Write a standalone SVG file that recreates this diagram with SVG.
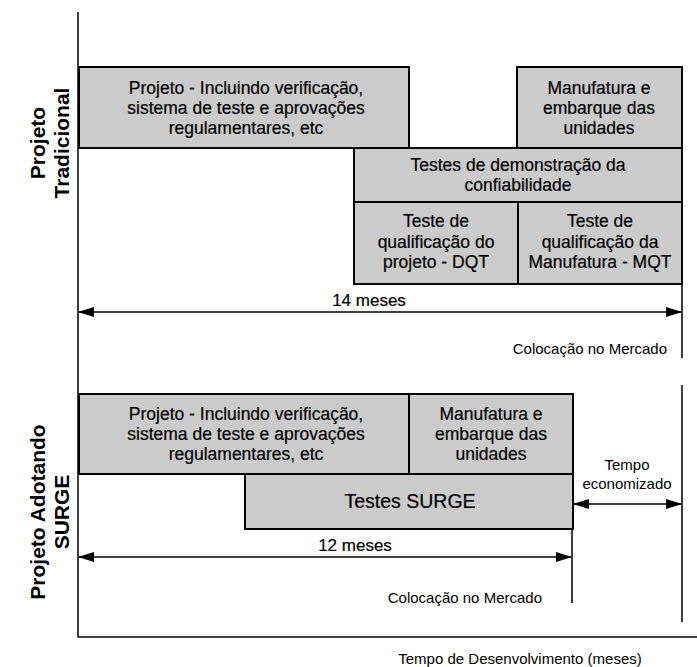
<svg xmlns="http://www.w3.org/2000/svg" width="697" height="667" viewBox="0 0 697 667">
  <style>
    .box { fill: #cbcbcb; stroke: #000; stroke-width: 2; }
    .t { font-family: "Liberation Sans", Arial, sans-serif; font-size: 17.5px; fill: #000; text-anchor: middle; stroke: #000; stroke-width: 0.2; }
    .s { font-family: "Liberation Sans", Arial, sans-serif; font-size: 15px; fill: #000; }
    .lbl { font-family: "Liberation Sans", Arial, sans-serif; font-size: 21px; font-weight: bold; fill: #000; text-anchor: middle; }
    .ax { stroke: #000; stroke-width: 1.5; fill: none; }
    .arr { stroke: #000; stroke-width: 1.5; fill: none; marker-start: url(#head); marker-end: url(#head); }
  </style>
  <defs>
    <marker id="head" viewBox="0 0 16 10" markerWidth="16" markerHeight="10" refX="15" refY="5" orient="auto-start-reverse" markerUnits="userSpaceOnUse">
      <path d="M0,0 L16,5 L0,10 z" fill="#000"/>
    </marker>
  </defs>

  <rect width="697" height="667" fill="#fff"/>

  <!-- row labels -->
  <g id="label-tradicional">
    <text class="lbl" transform="translate(45,143) rotate(-90)">Projeto</text>
    <text class="lbl" transform="translate(69,143) rotate(-90)">Tradicional</text>
  </g>
  <g id="label-surge">
    <text class="lbl" transform="translate(45,512) rotate(-90)">Projeto Adotando</text>
    <text class="lbl" transform="translate(69,512) rotate(-90)">SURGE</text>
  </g>

  <!-- traditional project -->
  <g id="trad-projeto">
    <rect class="box" x="79" y="67" width="330" height="81"/>
    <text class="t" x="246" y="94">Projeto - Incluindo verificação,</text>
    <text class="t" x="246" y="114">sistema de teste e aprovações</text>
    <text class="t" x="246" y="134">regulamentares, etc</text>
  </g>
  <g id="trad-manufatura">
    <rect class="box" x="517" y="67" width="165" height="81"/>
    <text class="t" x="599" y="94">Manufatura  e</text>
    <text class="t" x="599" y="114">embarque das</text>
    <text class="t" x="599" y="134">unidades</text>
  </g>
  <g id="trad-confiabilidade">
    <rect class="box" x="354" y="148" width="328" height="54"/>
    <text class="t" x="518" y="171">Testes de demonstração da</text>
    <text class="t" x="518" y="191">confiabilidade</text>
  </g>
  <g id="trad-dqt">
    <rect class="box" x="354" y="202" width="164" height="82"/>
    <text class="t" x="436" y="227">Teste de</text>
    <text class="t" x="436" y="248">qualificação do</text>
    <text class="t" x="436" y="268">projeto - DQT</text>
  </g>
  <g id="trad-mqt">
    <rect class="box" x="518" y="202" width="164" height="82"/>
    <text class="t" x="600" y="227">Teste de</text>
    <text class="t" x="600" y="248">qualificação da</text>
    <text class="t" x="600" y="268">Manufatura - MQT</text>
  </g>

  <!-- SURGE project -->
  <g id="surge-projeto">
    <rect class="box" x="79" y="394" width="330" height="80"/>
    <text class="t" x="246" y="420">Projeto - Incluindo verificação,</text>
    <text class="t" x="246" y="440">sistema de teste e aprovações</text>
    <text class="t" x="246" y="460">regulamentares, etc</text>
  </g>
  <g id="surge-manufatura">
    <rect class="box" x="409" y="394" width="164" height="80"/>
    <text class="t" x="491" y="420">Manufatura  e</text>
    <text class="t" x="491" y="440">embarque das</text>
    <text class="t" x="491" y="460">unidades</text>
  </g>
  <g id="surge-testes">
    <rect class="box" x="245" y="474" width="328" height="55"/>
    <text class="t" x="410" y="508" style="font-size:19.5px">Testes SURGE</text>
  </g>

  <!-- axes, markers and spans -->
  <g id="connectors">
    <line class="ax" x1="78" y1="12" x2="78" y2="637"/>
    <line class="ax" x1="78" y1="637" x2="697" y2="637"/>
    <line class="ax" x1="682" y1="284" x2="682" y2="358"/>
    <line class="ax" x1="682" y1="385" x2="682" y2="622"/>
    <line class="ax" x1="572" y1="530" x2="572" y2="603"/>
    <line class="arr" x1="79" y1="312" x2="681" y2="312"/>
    <line class="arr" x1="79" y1="557" x2="571" y2="557"/>
    <line class="arr" x1="574" y1="504" x2="681" y2="504"/>
  </g>

  <g id="notes">
    <text class="t" x="369" y="306" style="font-size:17px">14 meses</text>
    <text class="s" x="667" y="354" text-anchor="end">Colocação no Mercado</text>
    <text class="t" x="355" y="551" style="font-size:17px">12 meses</text>
    <text class="s" x="542" y="603" text-anchor="end">Colocação no Mercado</text>
    <text class="s" x="627" y="470" text-anchor="middle">Tempo</text>
    <text class="s" x="627" y="489" text-anchor="middle">economizado</text>
    <text class="s" x="520" y="664" text-anchor="middle">Tempo de Desenvolvimento (meses)</text>
  </g>
</svg>
